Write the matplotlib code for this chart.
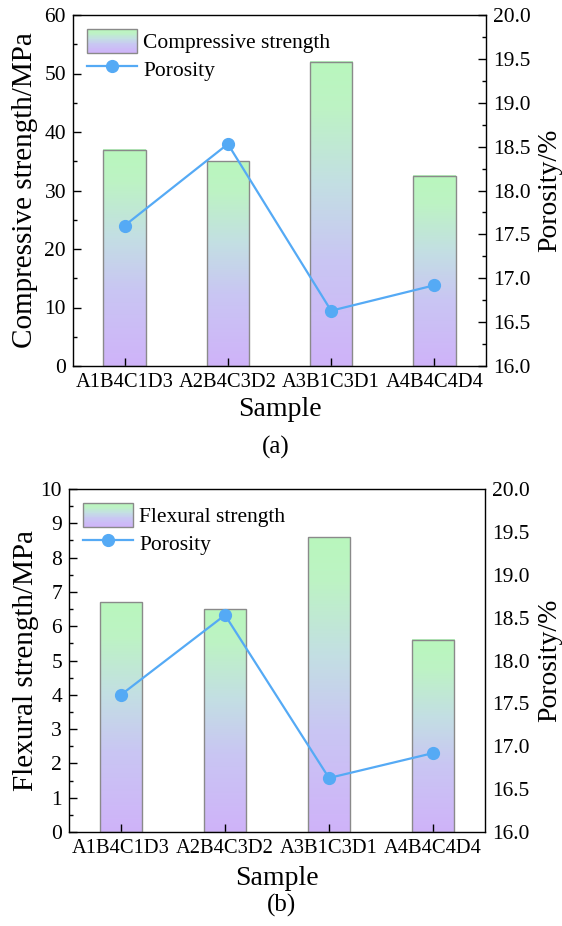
import numpy as np
import matplotlib
matplotlib.use("Agg")
import matplotlib.pyplot as plt
from matplotlib.colors import LinearSegmentedColormap
from matplotlib.legend_handler import HandlerBase
from matplotlib.patches import Rectangle, Patch
from matplotlib.lines import Line2D
from matplotlib.ticker import MultipleLocator, FormatStrFormatter

plt.rcParams['font.family'] = ['Liberation Serif', 'DejaVu Serif']

# data
samples = ['A1B4C1D3', 'A2B4C3D2', 'A3B1C3D1', 'A4B4C4D4']
compressive = [37.0, 35.0, 52.0, 32.5]
flexural = [6.7, 6.5, 8.6, 5.6]
porosity = [17.6, 18.53, 16.63, 16.92]

# gradient: purple at bottom -> light blue -> green at top
grad_cmap = LinearSegmentedColormap.from_list(
    'bar_grad', [(0.0, '#cfb3f9'), (0.35, '#c9c6f3'), (0.6, '#c3dfe3'), (0.85, '#bdf3c4'), (1.0, '#b9f7bd')])
line_color = '#55aaf5'
edge_color = '#8a8a8a'


class GradientHandler(HandlerBase):
    def create_artists(self, legend, orig_handle, xdescent, ydescent,
                       width, height, fontsize, trans):
        n = 30
        arts = []
        for i in range(n):
            r = Rectangle((-xdescent, -ydescent + height * i / n), width, height / n + 0.3,
                          facecolor=grad_cmap(i / (n - 1)), edgecolor='none', transform=trans)
            arts.append(r)
        arts.append(Rectangle((-xdescent, -ydescent), width, height, facecolor='none',
                              edgecolor=edge_color, lw=1.0, transform=trans))
        return arts


def draw_panel(ax, values, ylim, ymajor, yminor, ylabel, barlabel, left_x, right_x, sample_y, right_ticks):
    x = np.arange(len(samples))
    width = 0.41
    grad = np.linspace(0, 1, 256).reshape(-1, 1)
    for xi, v in zip(x, values):
        ax.imshow(grad, cmap=grad_cmap, origin='lower', aspect='auto',
                  extent=[xi - width / 2, xi + width / 2, 0, v], zorder=1)
    ax.bar(x, values, width=width, facecolor='none', edgecolor=edge_color, lw=1.0, zorder=2)
    ax.set_xlim(-0.5, 3.5)
    ax.set_ylim(*ylim)
    ax.set_xticks(x)
    ax.set_xticklabels(samples)
    ax.yaxis.set_major_locator(MultipleLocator(ymajor))
    ax.yaxis.set_minor_locator(MultipleLocator(yminor))
    ax.tick_params(axis='y', which='major', direction='in', length=6, width=1, labelsize=15.5, pad=5)
    ax.tick_params(axis='y', which='minor', direction='in', length=3, width=1)
    ax.tick_params(axis='x', direction='in', length=6, width=1, labelsize=14.8, pad=5)
    ax.set_xlabel('Sample', fontsize=20)
    ax.xaxis.set_label_coords(0.5, sample_y)
    ax.xaxis.label.set_va('center')
    ax.set_ylabel(ylabel, fontsize=21)
    ax.yaxis.set_label_coords(left_x, 0.5)
    ax.yaxis.label.set_va('center')
    for s in ax.spines.values():
        s.set_linewidth(1.0)
        s.set_color('#333333')

    ax2 = ax.twinx()
    ax2.plot(x, porosity, color=line_color, lw=1.6, marker='o', markersize=8.5, zorder=3)
    ax2.set_ylim(16, 20)
    ax2.yaxis.set_major_locator(MultipleLocator(0.5))
    ax2.yaxis.set_minor_locator(MultipleLocator(0.25))
    ax2.yaxis.set_major_formatter(FormatStrFormatter('%.1f'))
    tl = 6 if right_ticks else 0
    ax2.tick_params(axis='y', which='major', direction='in', length=tl, width=1, labelsize=15.5, pad=5)
    ax2.tick_params(axis='y', which='minor', direction='in', length=tl / 2, width=1)
    ax2.set_ylabel('Porosity/%', fontsize=20)
    ax2.yaxis.set_label_coords(right_x, 0.5)
    ax2.yaxis.label.set_va('center')

    bar_handle = Patch(facecolor='none')
    line_handle = Line2D([], [], color=line_color, lw=1.6, marker='o', markersize=8.5)
    ax2.legend([bar_handle, line_handle], [barlabel, 'Porosity'], loc='upper left',
               frameon=False, fontsize=15.5, handlelength=2.3, handleheight=1.35,
               handletextpad=0.3, labelspacing=0.15, borderaxespad=0.25,
               handler_map={Patch: GradientHandler()})
    return ax2


fig = plt.figure(figsize=(5.62, 9.26), dpi=100)
ax_a = fig.add_axes([73 / 562, 1 - 366 / 926, 413 / 562, 351 / 926])
ax_b = fig.add_axes([69 / 562, 1 - 832 / 926, 416 / 562, 343 / 926])

draw_panel(ax_a, compressive, (0, 60), 10, 5, 'Compressive strength/MPa', 'Compressive strength',
           -0.116, 1.155, -0.125, True)
draw_panel(ax_b, flexural, (0, 10), 1, 0.5, 'Flexural strength/MPa', 'Flexural strength',
           -0.103, 1.156, -0.135, False)

fig.text(276 / 562, 1 - 447 / 926, '(a)', fontsize=18, ha='center', va='center')
fig.text(282 / 562, 1 - 905 / 926, '(b)', fontsize=18, ha='center', va='center')

fig.savefig('out.png', dpi=100)
